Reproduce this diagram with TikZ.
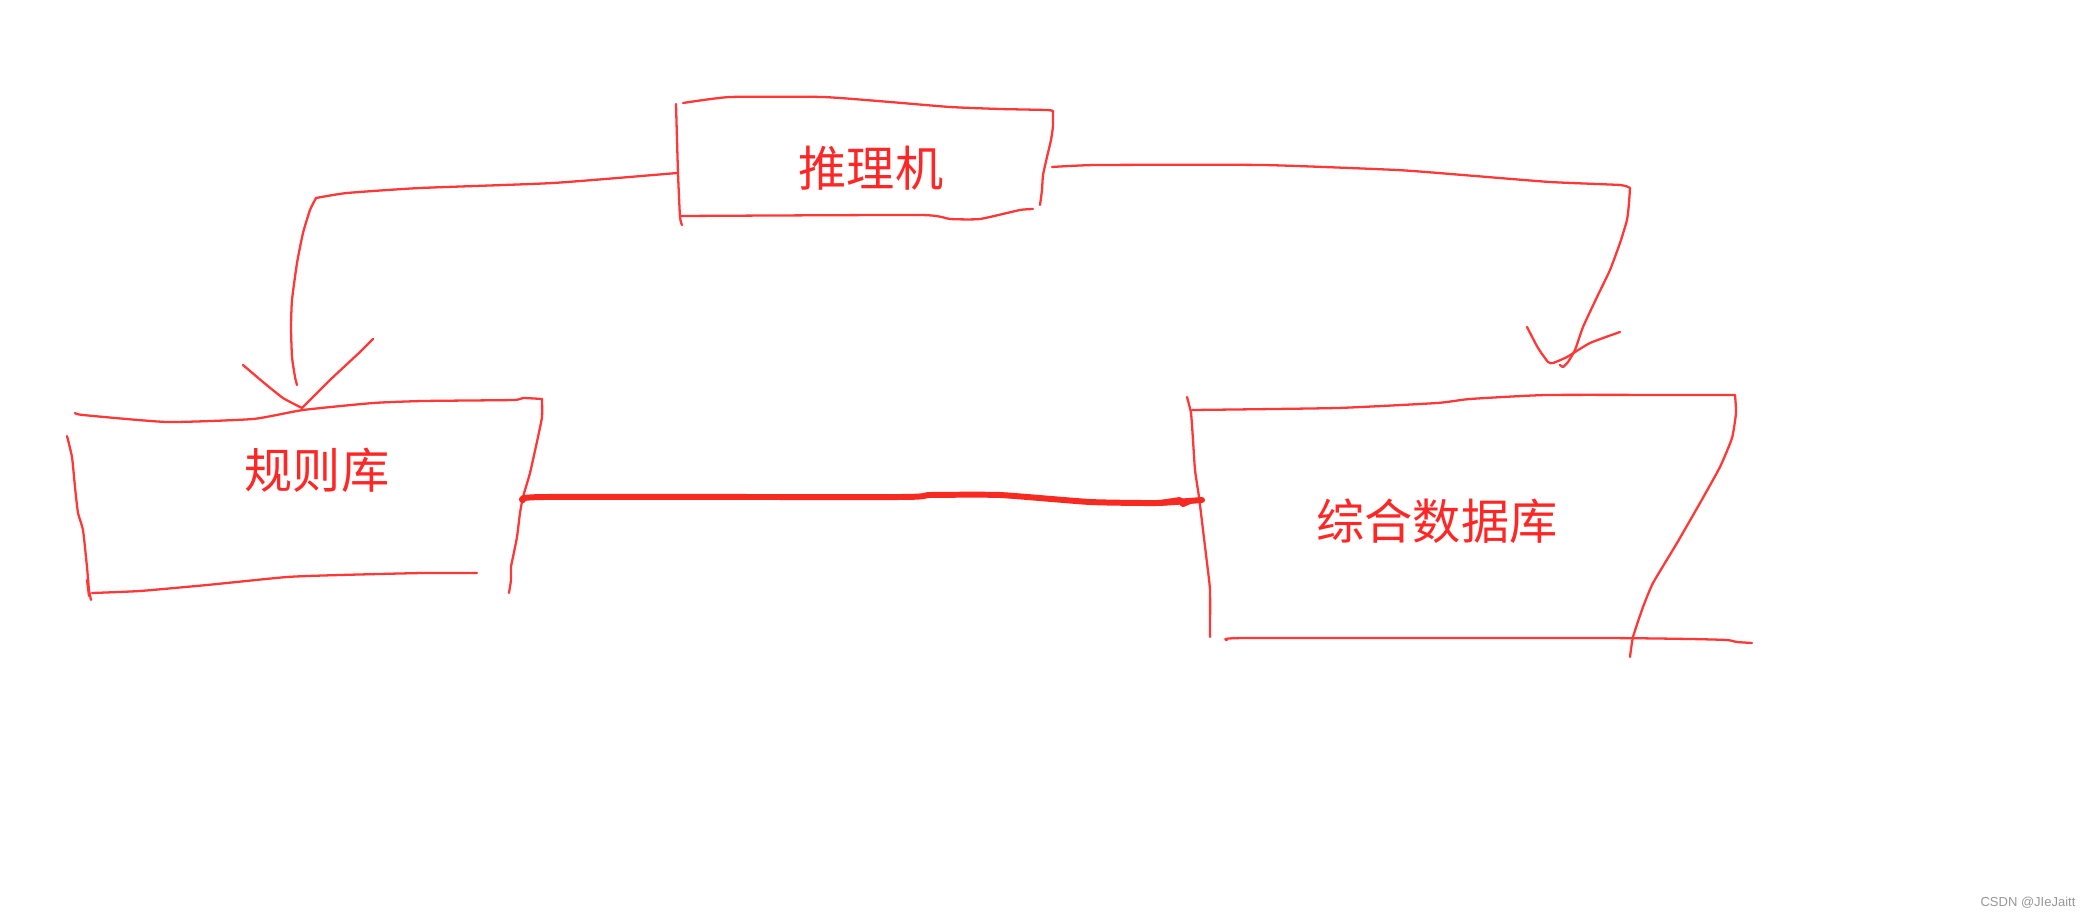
\documentclass[tikz,border=0pt]{standalone}
\usepackage{fontspec}
\newfontfamily\cjk{Noto Sans CJK SC}
\newfontfamily\wmfont{Liberation Sans}
\definecolor{penred}{RGB}{255,55,55}
\definecolor{thickred}{RGB}{246,42,32}
\definecolor{textred}{RGB}{255,38,38}
\definecolor{wmgray}{RGB}{150,150,150}
\tikzset{
  pen/.style={draw=penred, line width=0.65pt, line cap=round, line join=round},
  thickpen/.style={draw=thickred, line width=1.7pt, line cap=round, line join=round},
  lbl/.style={text=textred, font=\cjk\fontsize{13.7}{16}\selectfont, inner sep=0pt, anchor=center},
  hand/.style={smooth, tension=0.3}
}
\begin{document}
\begin{tikzpicture}[x=0.01cm,y=-0.01cm]
\useasboundingbox (0,0) rectangle (2090,918);

% labels
\node[lbl] (infer) at (871,168) {推理机};
\node[lbl] (rules) at (317,470) {规则库};
\node[lbl] (db) at (1437,521) {综合数据库};
\node[text=wmgray, font=\wmfont\fontsize{3.7}{4.5}\selectfont, inner sep=0pt] (wm) at (2028,903) {CSDN @JIeJaitt};

% connector end points
\coordinate (inferL) at (677,173);
\coordinate (inferR) at (1052,167);
\coordinate (rulesT) at (302,408);
\coordinate (rulesR) at (523,500);
\coordinate (dbT) at (1563,367);
\coordinate (dbL) at (1202,500);

% box: 推理机
\draw[pen] plot[hand] coordinates {(683,103) (730,97) (823,97) (890,102) (950,107) (1000,109) (1047,110) (1053,111)};
\draw[pen] plot[hand] coordinates {(1053,111) (1053,126) (1051,140) (1047,157) (1043,175) (1042,190) (1040,205)};
\draw[pen] plot[hand] coordinates {(676,104) (678,173) (680,217) (682,225)};
\draw[pen] plot[hand] coordinates {(680,216) (920,215) (950,219) (980,219) (1020,210) (1033,209)};

% box: 规则库
\draw[pen] plot[hand] coordinates {(75,413) (83,415) (167,422) (253,419) (303,410) (373,403) (423,401) (513,400) (523,398) (542,399)};
\draw[pen] plot[hand] coordinates {(542,399) (542,417) (538,437) (530,473) (523,497) (520,513) (517,537) (513,557) (511,567) (511,580) (509,593)};
\draw[pen] plot[hand] coordinates {(67,436) (72,457) (75,487) (78,513) (83,530) (87,567) (89,590) (91,600)};
\draw[pen] (87,580) -- (89,596);
\draw[pen] plot[hand] coordinates {(92,593) (140,591) (207,585) (287,577) (340,575) (423,573) (477,573)};

% box: 综合数据库
\draw[pen] plot[hand] coordinates {(1187,397) (1191,413) (1193,440) (1195,470) (1199,497) (1203,530) (1207,563) (1210,590) (1210,637)};
\draw[pen] plot[hand] coordinates {(1192,410) (1337,408) (1437,403) (1470,399) (1547,395) (1690,395) (1735,395)};
\draw[pen] plot[hand] coordinates {(1735,395) (1736,413) (1732,438) (1720,467) (1700,503) (1677,543) (1653,583) (1643,607) (1633,637) (1630,657)};
\draw[pen] plot[hand] coordinates {(1227,640) (1247,638) (1600,638) (1690,639) (1727,640) (1737,642) (1752,643)};

% connector: 推理机 -> 规则库
\draw[pen] plot[hand] coordinates {(inferL) (553,183) (420,188) (347,193) (316,198)};
\draw[pen] plot[hand] coordinates {(316,198) (310,210) (303,233) (297,263) (292,300) (291,327) (292,357) (295,377) (297,385)};
\draw[pen] plot[hand] coordinates {(243,365) (263,382) (283,398) (rulesT)};
\draw[pen] plot[hand] coordinates {(373,339) (360,352) (330,380) (rulesT)};

% connector: 推理机 -> 综合数据库
\draw[pen] plot[hand] coordinates {(inferR) (1097,165) (1263,165) (1397,170) (1463,175) (1550,182) (1620,185) (1630,188)};
\draw[pen] plot[hand] coordinates {(1630,188) (1629,203) (1627,220) (1620,243) (1610,270) (1597,297) (1583,327) (1575,350) (1568,362) (dbT) (1560,365)};
\draw[pen] plot[hand] coordinates {(1527,327) (1538,348) (1548,362) (1553,363) (1567,357) (1590,343) (1620,332)};

% connector: 规则库 -> 综合数据库 (thick)
\draw[thickpen] plot[hand] coordinates {(rulesR) (545,497) (900,497) (930,495) (1000,495) (1090,502) (1157,503) (dbL)};
\draw[thickpen] (1160,503) -- (1180,500) -- (1183,504) -- (1190,501);

\end{tikzpicture}
\end{document}
